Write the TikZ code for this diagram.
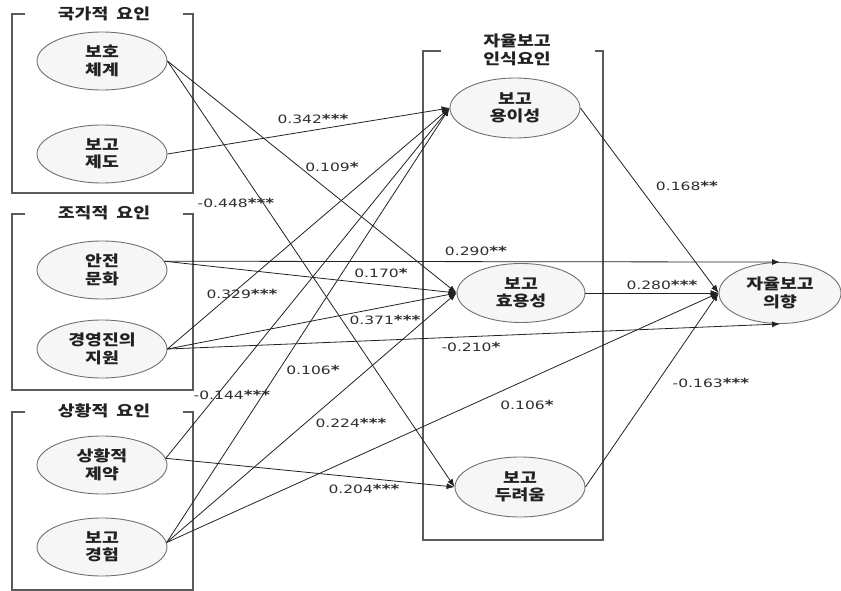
\documentclass[tikz,border=0pt]{standalone}
\usepackage{fontspec}
\usetikzlibrary{arrows.meta,shapes.geometric}
\newfontfamily\krfont{Noto Sans CJK KR}[FakeStretch=1.22]
\newfontfamily\numfont{DejaVu Sans}[FakeStretch=1.35]
\definecolor{inkc}{HTML}{222222}
\definecolor{framec}{HTML}{5A5A5A}
\definecolor{ellc}{HTML}{707070}
\definecolor{fillc}{HTML}{F6F6F6}
\definecolor{numc}{HTML}{2E2E2E}
\newcommand\sig[1]{\raisebox{0.6pt}{\fontsize{12.5}{13}\selectfont\bfseries #1}}
\tikzset{
  latent/.style={ellipse, draw=ellc, line width=0.9pt, fill=fillc,
    minimum width=130pt, minimum height=58pt, inner sep=0pt, align=center,
    font=\krfont\bfseries\fontsize{15}{17.5}\selectfont, text=inkc},
  grouptitle/.style={font=\krfont\bfseries\fontsize{15}{17.5}\selectfont,
    text=inkc, align=center, inner sep=0pt},
  frame/.style={draw=framec, line width=1.3pt},
  link/.style={draw=inkc, line width=0.8pt, -{Latex[length=8pt,width=6pt]}},
  coef/.style={font=\numfont\fontsize{11.5}{13}\selectfont, text=numc, inner sep=0pt},
}
\begin{document}
\begin{tikzpicture}[x=1pt,y=-1pt]
\useasboundingbox (0,0) rectangle (841,591);

% group frames, open at the top where the titles sit
\draw[frame] (25,14) -- (12,14) -- (12,193) -- (193,193) -- (193,14) -- (183,14);
\draw[frame] (25,214) -- (12,214) -- (12,390) -- (193,390) -- (193,214) -- (183,214);
\draw[frame] (25,412) -- (12,412) -- (12,590) -- (193,590) -- (193,412) -- (183,412);
\draw[frame] (441,51) -- (423,51) -- (423,540) -- (603,540) -- (603,51) -- (595,51);

\node[grouptitle] (t1) at (104,14) {국가적\hspace{8pt}요인};
\node[grouptitle] (t2) at (104,213) {조직적\hspace{8pt}요인};
\node[grouptitle] (t3) at (104,411) {상황적\hspace{8pt}요인};
\node[grouptitle] (t4) at (517,50) {자율보고\\인식요인};

% latent variables
\node[latent] (bh) at (102,61)  {보호\\체계};
\node[latent] (bj) at (102,154) {보고\\제도};
\node[latent] (aj) at (102,270) {안전\\문화};
\node[latent] (gj) at (102,349) {경영진의\\지원};
\node[latent] (sj) at (102,465) {상황적\\제약};
\node[latent] (bg) at (102,547) {보고\\경험};

\node[latent, minimum height=60pt] (ey) at (515,108) {보고\\용이성};
\node[latent, minimum width=128pt, minimum height=59pt] (hy) at (521,293) {보고\\효용성};
\node[latent, minimum height=60pt] (dr) at (520,487) {보고\\두려움};
\node[latent, minimum width=122pt, minimum height=61pt] (ih) at (780,293) {자율보고\\의향};

% paths
\draw[link] (bj.east) -- (ey.west);
\draw[link] (gj.east) -- (ey.west);
\draw[link] (sj.6)    -- (ey.west);
\draw[link] (bg.4)    -- (ey.west);

\draw[link] (bh.east) -- (hy.west);
\draw[link] (aj.8)    -- (hy.west);
\draw[link] (gj.east) -- (hy.west);
\draw[link] (bg.4)    -- (hy.west);

\draw[link] (bh.east) -- (dr.west);
\draw[link] (sj.6)    -- (dr.west);

\draw[link] (aj.8)    -- (ih.north);
\draw[link] (gj.east) -- (ih.south);
\draw[link] (bg.4)    -- (ih.west);
\draw[link] (ey.east) -- (ih.west);
\draw[link] (hy.east) -- (ih.west);
\draw[link] (dr.east) -- (ih.west);

% path coefficients
\node[coef] (c1)  at (313,119) {0.342\sig{***}};
\node[coef] (c2)  at (332,167) {0.109\sig{*}};
\node[coef] (c3)  at (236,203) {-0.448\sig{***}};
\node[coef] (c4)  at (476,251) {0.290\sig{**}};
\node[coef] (c5)  at (381,273) {0.170\sig{*}};
\node[coef] (c6)  at (242,294) {0.329\sig{***}};
\node[coef] (c7)  at (385,320) {0.371\sig{***}};
\node[coef] (c8)  at (471,347) {-0.210\sig{*}};
\node[coef] (c9)  at (313,370) {0.106\sig{*}};
\node[coef] (c10) at (232,395) {-0.144\sig{***}};
\node[coef] (c11) at (351,423) {0.224\sig{***}};
\node[coef] (c12) at (527,405) {0.106\sig{*}};
\node[coef] (c13) at (364,489) {0.204\sig{***}};
\node[coef] (c14) at (687,186) {0.168\sig{**}};
\node[coef] (c15) at (662,285) {0.280\sig{***}};
\node[coef] (c16) at (711,383) {-0.163\sig{***}};
\end{tikzpicture}
\end{document}
